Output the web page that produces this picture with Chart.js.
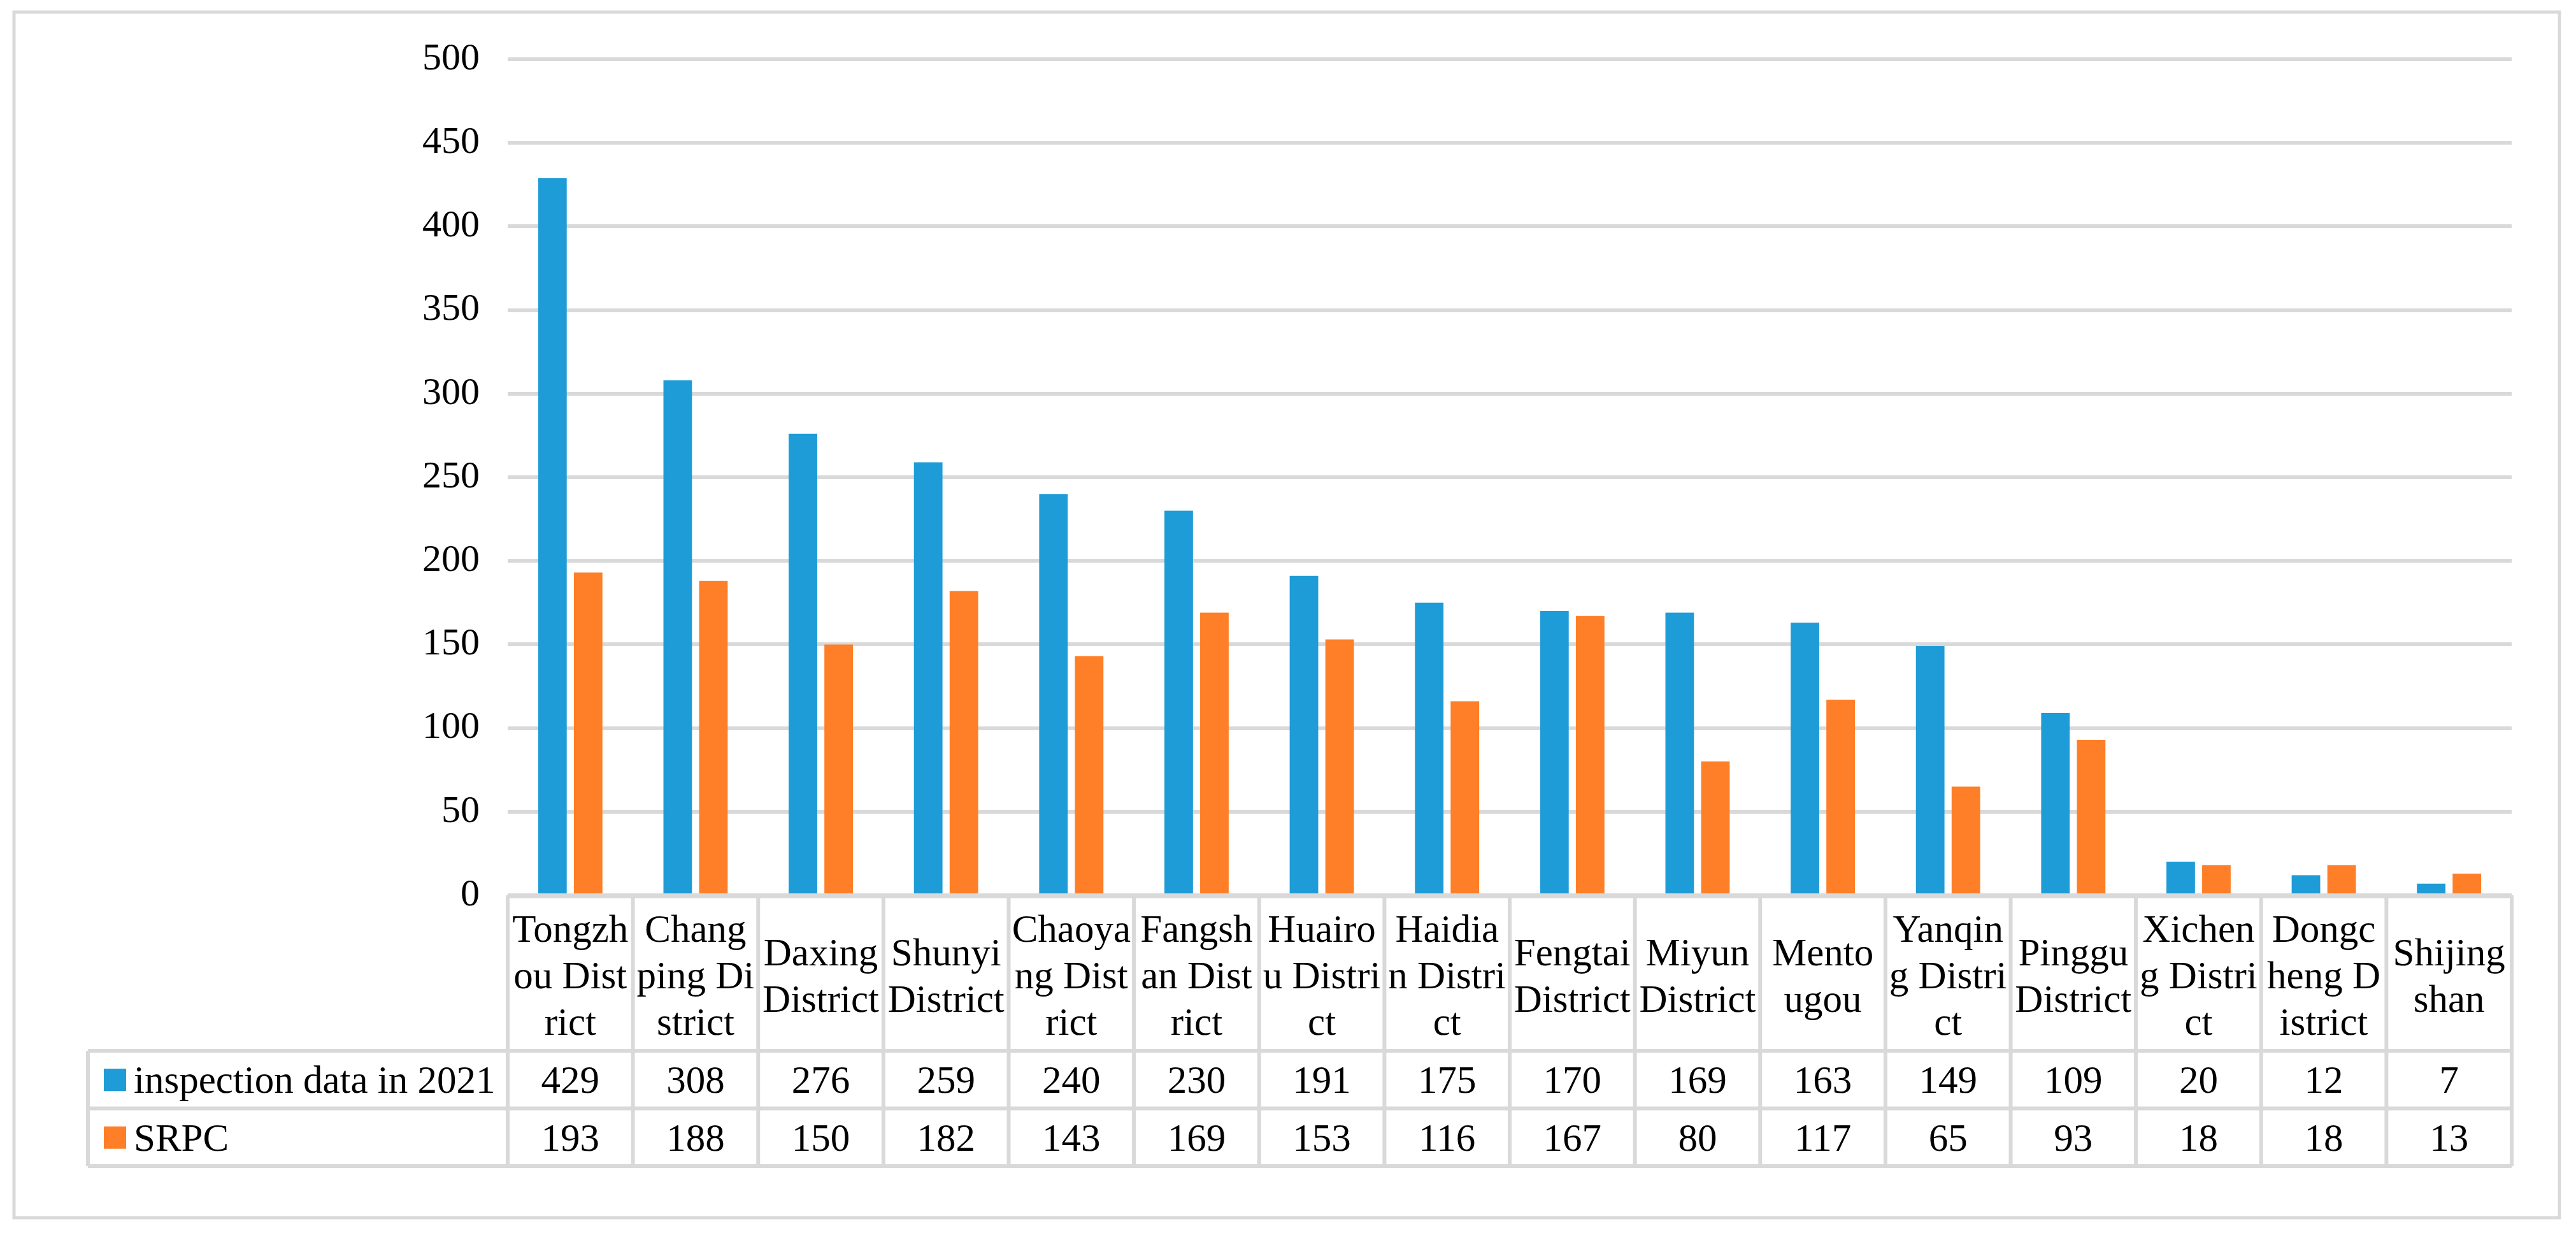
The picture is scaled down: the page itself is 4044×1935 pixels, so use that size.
<!DOCTYPE html>
<html>
<head>
<meta charset="utf-8">
<script src="https://cdn.jsdelivr.net/npm/chart.js@4/dist/chart.umd.min.js"></script>
<style>
html,body{margin:0;padding:0;background:#fff;}
#wrap{width:4044px;height:1935px;position:relative;}
</style>
</head>
<body>
<div id="wrap"><canvas id="c" width="4044" height="1935"></canvas></div>
<script>
// ---- data ----
const categoryLines = [
  ["Tongzh","ou Dist","rict"],
  ["Chang","ping Di","strict"],
  ["Daxing","District"],
  ["Shunyi","District"],
  ["Chaoya","ng Dist","rict"],
  ["Fangsh","an Dist","rict"],
  ["Huairo","u Distri","ct"],
  ["Haidia","n Distri","ct"],
  ["Fengtai","District"],
  ["Miyun","District"],
  ["Mento","ugou"],
  ["Yanqin","g Distri","ct"],
  ["Pinggu","District"],
  ["Xichen","g Distri","ct"],
  ["Dongc","heng D","istrict"],
  ["Shijing","shan"]
];
const seriesNames = ["inspection data in 2021", "SRPC"];
const inspection2021 = [429,308,276,259,240,230,191,175,170,169,163,149,109,20,12,7];
const srpc = [193,188,150,182,143,169,153,116,167,80,117,65,93,18,18,13];
const yMin = 0, yMax = 500, yStep = 50;

// ---- styles ----
const FONT = "'Liberation Serif','Times New Roman',serif";
const GRID = '#D9D9D9';
const BLUE = '#1E9CD7';
const ORANGE = '#FE7F27';
const FS = 61;

const tablePlugin = {
  id: 'dataTable',
  beforeDraw(chart) {
    const ctx = chart.ctx;
    ctx.save();
    ctx.fillStyle = '#fff';
    ctx.fillRect(0, 0, chart.width, chart.height);
    ctx.strokeStyle = GRID;
    ctx.lineWidth = 5;
    ctx.strokeRect(22, 19, 4018 - 22, 1911 - 19);
    ctx.restore();
  },
  afterDraw(chart) {
    const ctx = chart.ctx;
    const xs = chart.scales.x;
    const n = chart.data.labels.length;
    const colW = (xs.right - xs.left) / n;
    const labelTop = xs.top;
    const rowTop = xs.bottom;
    const rowH = 90.5;
    const legendLeft = 138;
    const rows = chart.data.datasets.length;
    const tableBottom = rowTop + rows * rowH;

    ctx.save();
    ctx.strokeStyle = GRID;
    ctx.lineWidth = 6;
    ctx.beginPath();
    // horizontal lines
    for (let r = 0; r <= rows; r++) {
      const y = rowTop + r * rowH;
      ctx.moveTo(legendLeft, y);
      ctx.lineTo(xs.right, y);
    }
    // vertical lines
    for (let k = 0; k <= n; k++) {
      const x = xs.left + k * colW;
      ctx.moveTo(x, labelTop);
      ctx.lineTo(x, tableBottom);
    }
    ctx.moveTo(legendLeft, rowTop);
    ctx.lineTo(legendLeft, tableBottom);
    ctx.stroke();

    // axis line on top of bars
    ctx.lineWidth = 7;
    ctx.beginPath();
    const y0 = chart.scales.y.getPixelForValue(0);
    ctx.moveTo(xs.left, y0 + 1);
    ctx.lineTo(xs.right, y0 + 1);
    ctx.stroke();

    ctx.font = FS + 'px ' + FONT;
    ctx.fillStyle = '#000';
    ctx.textBaseline = 'alphabetic';
    chart.data.datasets.forEach((ds, r) => {
      const cy = rowTop + r * rowH + rowH / 2;
      // legend swatch
      ctx.fillStyle = ds.backgroundColor;
      ctx.fillRect(163, cy - 17, 35, 35);
      ctx.fillStyle = '#000';
      ctx.textAlign = 'left';
      ctx.fillText(ds.label, 210, cy + 21);
      ctx.textAlign = 'center';
      ds.data.forEach((v, i) => {
        ctx.fillText(String(v), xs.getPixelForValue(i), cy + 21);
      });
    });
    ctx.restore();
  }
};

Chart.defaults.font.family = FONT;
Chart.defaults.color = '#000';

new Chart(document.getElementById('c'), {
  type: 'bar',
  data: {
    labels: categoryLines,
    datasets: [
      { label: seriesNames[0], data: inspection2021, backgroundColor: BLUE },
      { label: seriesNames[1], data: srpc, backgroundColor: ORANGE }
    ]
  },
  options: {
    responsive: false,
    devicePixelRatio: 1,
    animation: false,
    events: [],
    layout: { padding: { left: 0, right: 101, top: 93, bottom: 286 } },
    datasets: { bar: { categoryPercentage: 0.57, barPercentage: 0.8 } },
    plugins: { legend: { display: false }, tooltip: { enabled: false }, title: { display: false } },
    scales: {
      x: {
        offset: true,
        grid: { display: false },
        border: { display: false },
        ticks: {
          autoSkip: false, maxRotation: 0, minRotation: 0,
          crossAlign: 'center',
          padding: 49,
          font: { size: FS, lineHeight: 1.2 },
          color: '#000'
        },
        afterFit(s) { s.height = 244; }
      },
      y: {
        min: yMin, max: yMax,
        border: { display: false },
        grid: { color: GRID, lineWidth: 6, drawTicks: false },
        ticks: { stepSize: yStep, padding: 44, font: { size: 60 }, color: '#000' },
        afterFit(s) { s.width = 797; }
      }
    }
  },
  plugins: [tablePlugin]
});
</script>
</body>
</html>
